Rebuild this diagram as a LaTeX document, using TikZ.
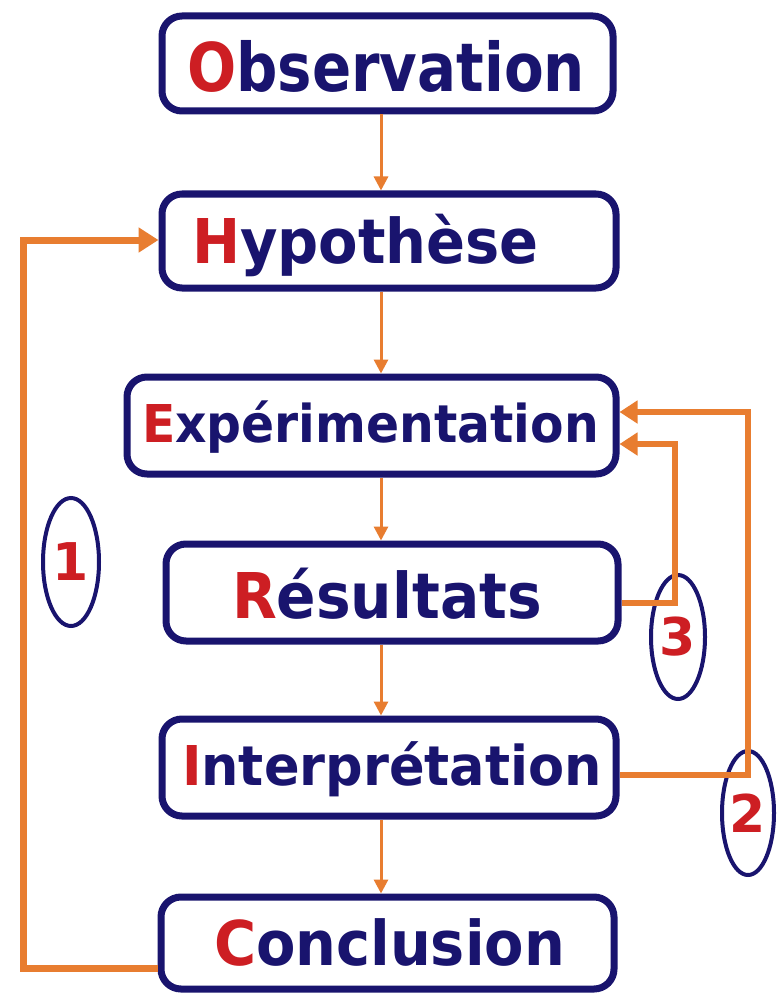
\documentclass[tikz,border=0pt]{standalone}
\usepackage{fontspec}
\usepackage{graphicx}
\usetikzlibrary{arrows.meta,shapes.geometric}
\newfontfamily\lblfont{DejaVu Sans}
\definecolor{navy}{RGB}{25,20,110}
\definecolor{wred}{RGB}{205,30,35}
\definecolor{orng}{RGB}{232,125,48}
\newsavebox\lblbox
\newcommand\lbl[4]{%
  \sbox\lblbox{\lblfont\bfseries\fontsize{60}{60}\selectfont\textcolor{wred}{#3}\textcolor{navy}{#4}}%
  \pgfmathsetmacro\lsx{#1/\wd\lblbox}%
  \pgfmathsetmacro\lsy{#2/43.74}%
  \scalebox{\lsx}[\lsy]{\usebox\lblbox}}
\tikzset{
  stepbox/.style={draw=navy, line width=7pt, rounded corners=20pt, inner sep=0pt, fill=white},
  word/.style={anchor=base west, inner sep=0pt, outer sep=0pt},
  num/.style={draw=navy, ellipse, line width=4pt, inner sep=0pt, text=wred,
    font=\lblfont\bfseries\fontsize{52}{52}\selectfont},
  carrow/.style={draw=orng, line width=3pt, -{Triangle[length=14pt,width=14pt]}},
  looparrow/.style={draw=orng, line width=7pt, -{Triangle[length=20pt,width=24pt]}},
  loopline/.style={draw=orng, line width=6pt, -{Triangle[length=18pt,width=22pt]}},
}
\begin{document}
\begin{tikzpicture}[x=1pt,y=-1pt]
\useasboundingbox[fill=white] (0,0) rectangle (776,995);
% boxes
\node[stepbox, minimum width=451pt, minimum height=95pt] (obs) at (387.5,63.5) {};
\node[stepbox, minimum width=454pt, minimum height=94pt] (hyp) at (389,241) {};
\node[stepbox, minimum width=489pt, minimum height=97pt] (exp) at (371.5,425.5) {};
\node[stepbox, minimum width=452pt, minimum height=97pt] (res) at (392,592.5) {};
\node[stepbox, minimum width=454pt, minimum height=97pt] (int) at (389,767.5) {};
\node[stepbox, minimum width=453pt, minimum height=92pt] (con) at (387.5,943) {};
% labels
\node[word] (obsT) at (187,92) {\lbl{398}{49}{O}{bservation}};
\node[word] (hypT) at (192,263) {\lbl{347}{45}{H}{ypothèse}};
\node[word] (expT) at (142,442) {\lbl{457}{38}{E}{xpérimentation}};
\node[word] (resT) at (232,618) {\lbl{310}{46}{R}{ésultats}};
\node[word] (intT) at (182,785) {\lbl{420}{40}{I}{nterprétation}};
\node[word] (conT) at (214,965) {\lbl{351}{45}{C}{onclusion}};
% number ellipses
\node[num, minimum width=56pt, minimum height=128pt] (n1) at (71,562) {1};
\node[num, minimum width=54pt, minimum height=124pt] (n3) at (678,637) {3};
\node[num, minimum width=52pt, minimum height=124pt] (n2) at (748,813) {2};
% central arrows
\coordinate (ax) at (381,0);
\draw[carrow] (obs.south -| ax) -- (hyp.north -| ax);
\draw[carrow] (hyp.south -| ax) -- (exp.north -| ax);
\draw[carrow] (exp.south -| ax) -- (res.north -| ax);
\draw[carrow] (res.south -| ax) -- (int.north -| ax);
\draw[carrow] (int.south -| ax) -- (con.north -| ax);
% loop 1
\coordinate (l1b) at (23,968);
\coordinate (l1t) at (23,240);
\draw[looparrow] (con.west |- l1b) -- (l1b) -- (l1t) -- (hyp.west |- l1t);
% loop 2
\coordinate (l2b) at (748,775);
\coordinate (l2t) at (748,412);
\draw[loopline] (int.east |- l2b) -- (l2b) -- (l2t) -- (exp.east |- l2t);
% loop 3
\coordinate (l3b) at (675,603);
\coordinate (l3t) at (675,444);
\draw[loopline] (res.east |- l3b) -- (l3b) -- (l3t) -- (exp.east |- l3t);
\end{tikzpicture}
\end{document}
